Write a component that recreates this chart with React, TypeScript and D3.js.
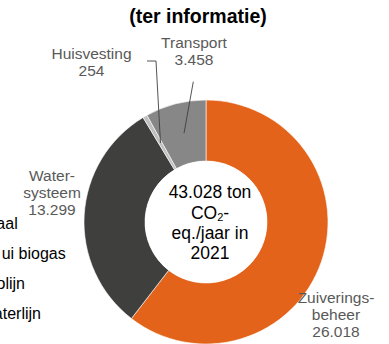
import React from "react";
import * as d3 from "d3";

const categories = ["Zuiveringsbeheer", "Watersysteem", "Huisvesting", "Transport"];
const values = [26018, 13299, 254, 3458];
const labelLines = [
  ["Zuiverings-", "beheer", "26.018"],
  ["Water-", "systeem", "13.299"],
  ["Huisvesting", "254"],
  ["Transport", "3.458"],
];
const colors = ["#E3631A", "#3F3F3D", "#BFBFBF", "#878787"];
const centerLines = ["43.028 ton", "CO2-", "eq./jaar in", "2021"];
const legendFragments = ["aal", "ui biogas", "olijn", "Waterlijn"];
const title = "(ter informatie)";

const W = 389;
const H = 344;
const cx = 206;
const cy = 222;
const rOuter = 122;
const rInner = 61;

const labelPos = [
  { x: 336, y: 303.3 },
  { x: 52, y: 180.7 },
  { x: 91.5, y: 59 },
  { x: 194, y: 48.3 },
];

export default function App() {
  const pie = d3
    .pie<number>()
    .sort(null)
    .value((d) => d)
    .startAngle(0)
    .endAngle(2 * Math.PI);
  const arcs = pie(values);
  const arc = d3.arc<d3.PieArcDatum<number>>().innerRadius(rInner).outerRadius(rOuter);
  const font = "'Liberation Sans', Arial, sans-serif";

  const legendEnds = [17.7, 65.7, 25, 41];
  const legendY = d3.scaleLinear().domain([0, 3]).range([228.5, 318.5]);

  return (
    <svg
      width={W}
      height={H}
      style={{ position: "absolute", left: 0, top: 0, background: "#fff" }}
      fontFamily={font}
    >
      <rect x={0} y={0} width={W} height={H} fill="#fff" />
      <text x={198} y={22.5} textAnchor="middle" fontSize={19.5} fontWeight="bold" fill="#000">
        {title}
      </text>

      <g transform={`translate(${cx},${cy})`}>
        {arcs.map((a, i) => (
          <path key={categories[i]} d={arc(a) || ""} fill={colors[i]} stroke="#fff" strokeWidth={0.6} />
        ))}
        <circle r={rInner} fill="#fff" />
      </g>

      {/* leader lines */}
      <polyline points="147,61 156,61 160.5,143" fill="none" stroke="#404040" strokeWidth={0.9} />
      <line x1={193.3} y1={81.7} x2={184} y2={133.3} stroke="#404040" strokeWidth={0.9} />

      {labelLines.map((lines, i) => (
        <text key={categories[i]} textAnchor="middle" fontSize={15.5} fill="#595959">
          {lines.map((l, j) => (
            <tspan key={j} x={labelPos[i].x} y={labelPos[i].y + j * 17}>
              {l}
            </tspan>
          ))}
        </text>
      ))}

      <text textAnchor="middle" fontSize={17.5} fill="#000">
        {centerLines.map((l, j) => (
          <tspan key={j} x={210} y={198.3 + j * 20.3}>
            {l === "CO2-" ? (
              <>
                CO
                <tspan fontSize={11} dy={2}>
                  2
                </tspan>
                <tspan dy={-2}>-</tspan>
              </>
            ) : (
              l
            )}
          </tspan>
        ))}
      </text>

      {legendFragments.map((t, i) => (
        <text key={t} x={legendEnds[i]} y={legendY(i)} textAnchor="end" fontSize={16} fill="#000">
          {t}
        </text>
      ))}
    </svg>
  );
}
